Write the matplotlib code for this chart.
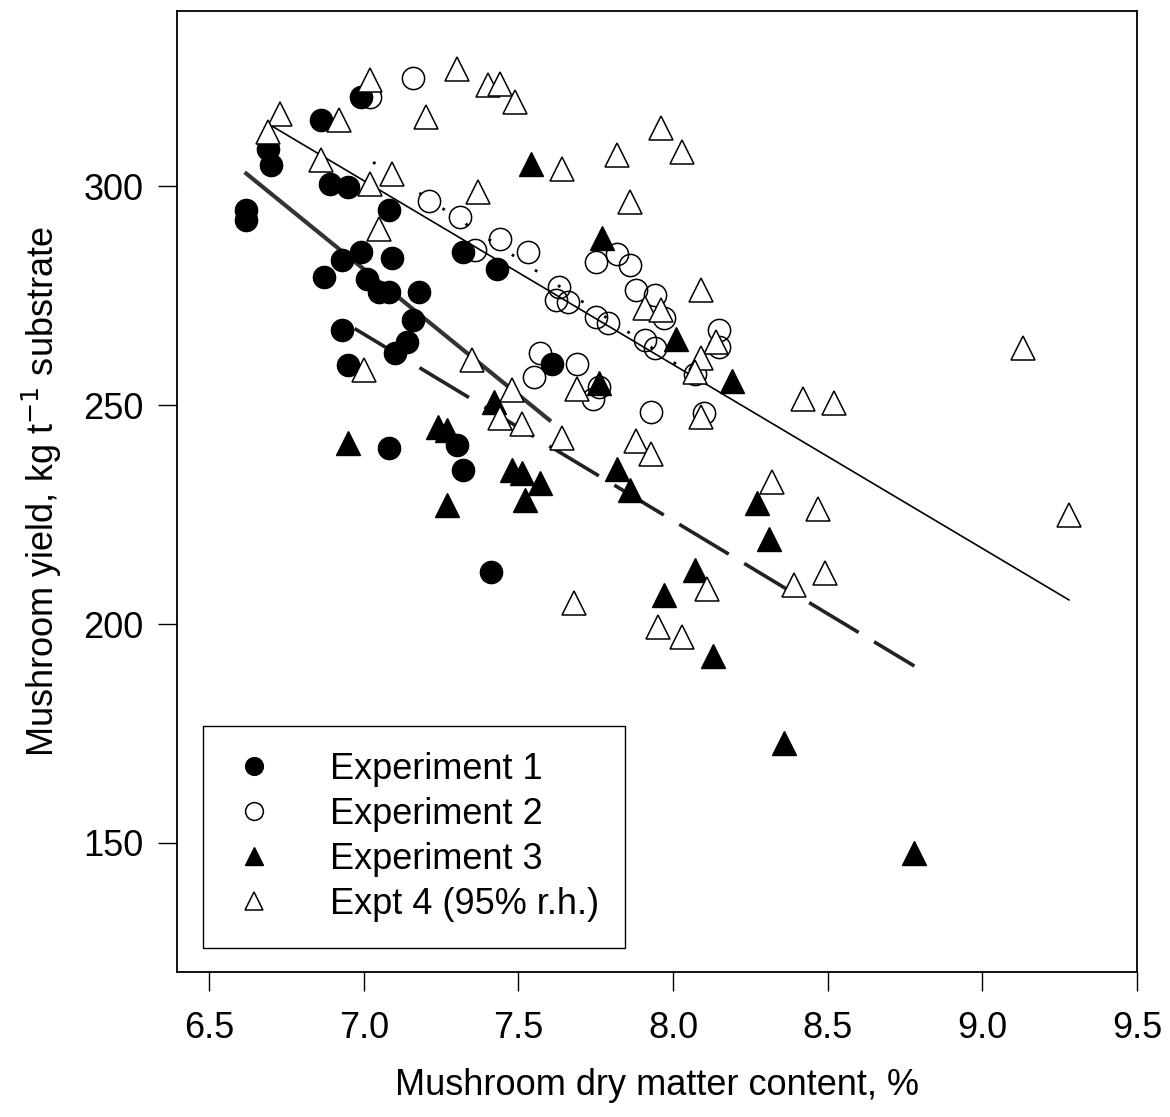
import numpy as np
import matplotlib
matplotlib.use("Agg")
import matplotlib.pyplot as plt

plt.rcParams['font.family'] = ['Liberation Sans', 'DejaVu Sans']

# Experiment 1 (filled circles)
exp1_x = [6.62, 6.62, 6.99, 6.86, 6.69, 6.70, 6.89, 6.95, 7.08, 6.93, 6.99, 7.09,
          6.87, 7.01, 7.05, 7.08, 7.18, 7.16, 7.14, 7.10, 6.93, 6.95, 7.08, 7.30,
          7.32, 7.41, 7.32, 7.43, 7.61]
exp1_y = [294.5, 292.3, 320.4, 315.1, 308.6, 304.8, 300.6, 299.8, 294.5, 283.1, 285.0, 283.5,
          279.3, 278.9, 275.9, 275.9, 275.9, 269.4, 264.5, 261.8, 267.1, 259.1, 240.1, 240.9,
          235.2, 211.9, 285.0, 281.2, 259.5]

# Experiment 2 (open circles)
exp2_x = [7.02, 7.16, 7.21, 7.31, 7.36, 7.44, 7.53, 7.63, 7.62, 7.66, 7.57, 7.55,
          7.69, 7.76, 7.74, 7.75, 7.82, 7.86, 7.88, 7.94, 7.97, 7.75, 7.79, 7.91,
          7.94, 8.15, 8.15, 7.93, 8.07, 8.10]
exp2_y = [320.4, 324.8, 296.6, 293.0, 285.4, 288.0, 285.0, 277.0, 274.0, 273.5, 261.8, 256.5,
          259.5, 254.2, 251.5, 282.7, 284.6, 282.0, 276.3, 275.1, 269.8, 270.2, 268.7, 264.8,
          263.0, 267.1, 263.3, 248.5, 257.2, 248.1]

# Experiment 3 (filled triangles)
exp3_x = [7.54, 7.77, 8.01, 8.19, 7.76, 7.42, 6.95, 7.24, 7.27, 7.48, 7.51, 7.57,
          7.52, 7.27, 7.82, 7.86, 8.27, 8.31, 8.07, 7.97, 8.13, 8.36, 8.78]
exp3_y = [305.2, 288.1, 265.2, 255.4, 255.0, 250.8, 241.3, 245.1, 244.3, 235.2, 234.4, 232.1,
          228.3, 227.2, 235.5, 230.5, 227.6, 219.5, 212.3, 206.6, 192.6, 172.9, 147.6]

# Expt 4, 95% r.h. (open triangles)
exp4_x = [7.02, 7.30, 7.40, 7.44, 7.49, 7.20, 6.92, 6.73, 6.69, 6.86, 7.02, 7.09,
          7.05, 7.37, 7.64, 7.96, 8.03, 7.82, 7.86, 7.91, 7.96, 8.09, 8.14, 8.09,
          8.07, 8.09, 7.69, 7.00, 7.35, 7.48, 7.44, 7.51, 7.64, 7.88, 7.93, 8.32,
          8.47, 8.49, 8.39, 8.42, 8.52, 9.13, 9.28, 8.11, 7.95, 8.03, 7.68]
exp4_y = [324.2, 326.9, 323.1, 323.4, 319.2, 315.8, 315.1, 316.6, 312.4, 305.9, 300.6, 302.9,
          290.3, 298.7, 304.0, 313.2, 307.8, 307.1, 296.4, 272.2, 271.7, 276.3, 264.5, 260.7,
          257.6, 247.3, 253.8, 258.0, 260.3, 253.4, 247.0, 245.8, 242.6, 241.7, 238.9, 232.5,
          226.2, 211.6, 208.9, 251.5, 250.4, 263.0, 224.9, 208.1, 199.4, 197.1, 204.9]

# fitted lines (end points)
fit1_x, fit1_y = [6.62, 7.60], [302.9, 246.6]
fit2_x, fit2_y = [7.03, 8.15], [305.5, 252.8]
fit3_x, fit3_y = [6.97, 8.78], [267.5, 190.4]
fit4_x, fit4_y = [6.69, 9.28], [314.3, 205.5]

fig = plt.figure(figsize=(11.70, 11.17), dpi=100)
ax = fig.add_axes([0.1513, 0.1298, 0.8205, 0.8602])

ax.plot(fit1_x, fit1_y, color='#333333', lw=3.0, zorder=1)
ax.plot(fit2_x, fit2_y, color='black', lw=2.0, linestyle=(0, (1, 9)), zorder=1)
ax.plot(fit3_x, fit3_y, color='#222222', lw=2.6, linestyle=(0, (16, 5)), zorder=1)
ax.plot(fit4_x, fit4_y, color='black', lw=1.2, zorder=1)

ms = 16
ax.plot(exp1_x, exp1_y, 'o', ms=ms, mfc='black', mec='black', mew=1.0, label='Experiment 1', zorder=3)
ax.plot(exp2_x, exp2_y, 'o', ms=ms, mfc='none', mec='black', mew=1.1, label='Experiment 2', zorder=3)
ax.plot(exp3_x, exp3_y, '^', ms=ms + 1, mfc='black', mec='black', mew=1.0, label='Experiment 3', zorder=3)
ax.plot(exp4_x, exp4_y, '^', ms=ms + 1, mfc='white', mec='black', mew=1.1, label='Expt 4 (95% r.h.)', zorder=3)

ax.set_xlim(6.396, 9.5)
ax.set_ylim(120.5, 340)
ax.set_xticks([6.5, 7.0, 7.5, 8.0, 8.5, 9.0, 9.5])
ax.set_xticklabels(['6.5', '7.0', '7.5', '8.0', '8.5', '9.0', '9.5'])
ax.set_yticks([150, 200, 250, 300])
ax.tick_params(direction='out', length=14, width=1.0, labelsize=26, pad=14)
ax.tick_params(axis='y', pad=10)
for s in ax.spines.values():
    s.set_linewidth(1.3)

ax.set_xlabel('Mushroom dry matter content, %', fontsize=26, labelpad=16)
ax.set_ylabel('Mushroom yield, kg t$^{-1}$ substrate', fontsize=26, labelpad=14)

leg = ax.legend(loc='lower left', bbox_to_anchor=(0.027, 0.025), borderaxespad=0,
                fontsize=26, frameon=True, fancybox=False, framealpha=1,
                edgecolor='black', markerscale=0.8, handlelength=1.4,
                handletextpad=1.4, labelspacing=0.28, borderpad=0.72)
leg.get_frame().set_linewidth(1.0)

fig.savefig('out.png', dpi=100)
